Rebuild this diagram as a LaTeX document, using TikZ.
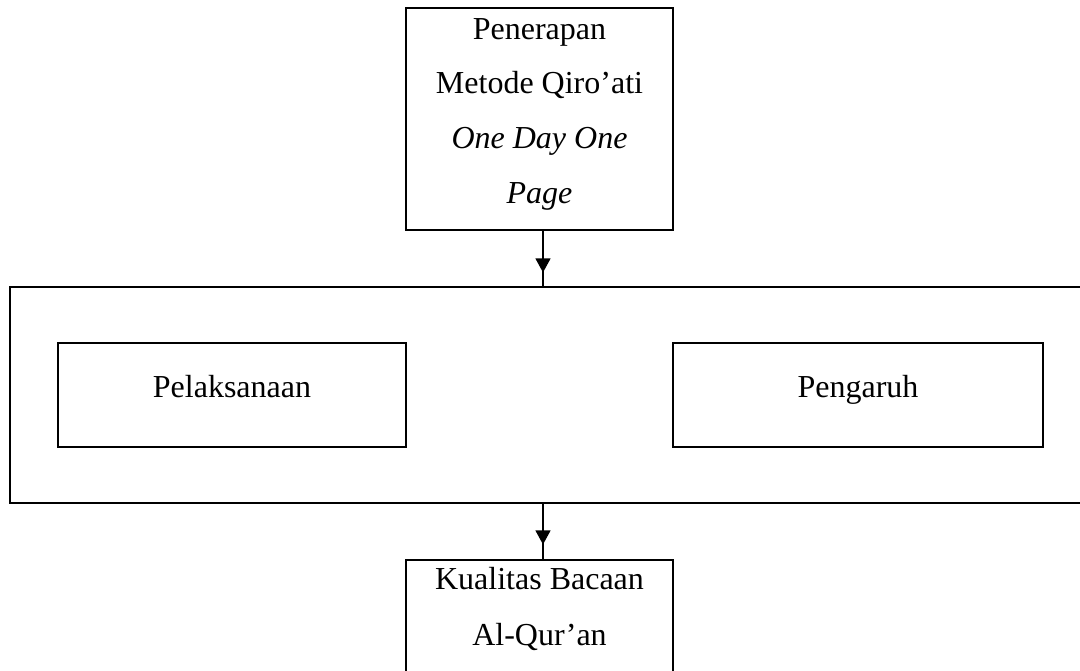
\documentclass[tikz,border=0pt]{standalone}
\usepackage{fontspec}
\setmainfont{Liberation Serif}
\usetikzlibrary{arrows.meta}
\begin{document}
\begin{tikzpicture}[x=1pt,y=-1pt,
  box/.style={draw, line width=1.1pt, rectangle, inner sep=0pt},
  txt/.style={font=\fontsize{32}{55}\selectfont, inner sep=0pt, anchor=base},
  conn/.style={line width=1.1pt},
  tip/.style={line width=1.1pt, -{Triangle[length=14pt,width=15pt]}}]
\useasboundingbox (0,0) rectangle (1080,670);
% boxes
\node[box, minimum width=267pt, minimum height=222pt] (top) at (539.5,119) {};
\node[box, minimum width=1085pt, minimum height=216pt] (outer) at (552.5,395) {};
\node[box, minimum width=348pt, minimum height=104pt] (left) at (232,395) {};
\node[box, minimum width=370pt, minimum height=104pt] (right) at (858,395) {};
\node[box, minimum width=267pt, minimum height=140pt] (bottom) at (539.5,630) {};
% texts
\node[txt] (t1) at (539.5,39) {Penerapan};
\node[txt] (t2) at (539.5,93) {Metode Qiro’ati};
\node[txt] (t3) at (539.5,148) {\itshape One Day One};
\node[txt] (t4) at (539.5,203) {\itshape Page};
\node[txt] (l1) at (232,397) {Pelaksanaan};
\node[txt] (r1) at (858,397) {Pengaruh};
\node[txt] (b1) at (539.5,589) {Kualitas Bacaan};
\node[txt] (b2) at (539.5,645) {Al-Qur’an};
% connectors
\path (top.south) ++(3.5,0) coordinate (a1);
\path (outer.south) ++(-9.5,0) coordinate (a2);
\draw[conn] (a1) -- (a1 |- outer.north);
\draw[tip, shorten >=14pt] (a1) -- (a1 |- outer.north);
\draw[conn] (a2) -- (a2 |- bottom.north);
\draw[tip, shorten >=15pt] (a2) -- (a2 |- bottom.north);
\end{tikzpicture}
\end{document}
